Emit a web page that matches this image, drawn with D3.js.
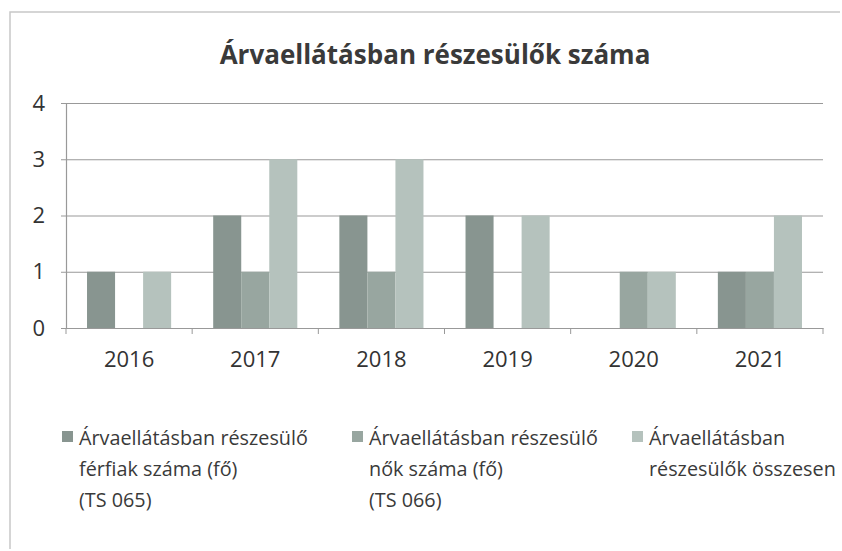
<!DOCTYPE html>
<html>
<head>
<meta charset="utf-8">
<script src="https://cdn.jsdelivr.net/npm/d3@7"></script>
<style>
  html, body { margin: 0; padding: 0; background: #fff; }
  svg { display: block; font-family: 'Open Sans', 'Noto Sans', sans-serif; }
</style>
</head>
<body>
<div id="chart"></div>
<script>
// ── Data ──────────────────────────────────────────────────────
const years = ['2016', '2017', '2018', '2019', '2020', '2021'];
const ferfiak = [1, 2, 2, 2, 0, 1];
const nok = [0, 1, 1, 0, 1, 1];
const osszesen = [1, 3, 3, 2, 1, 2];
const yTicks = [0, 1, 2, 3, 4];
const seriesNames = [
  ['Árvaellátásban részesülő', 'férfiak száma (fő)', '(TS 065)'],
  ['Árvaellátásban részesülő', 'nők száma (fő)', '(TS 066)'],
  ['Árvaellátásban', 'részesülők összesen']
];
const title = 'Árvaellátásban részesülők száma';

const COLORS = ['#889590', '#98a6a0', '#b5c2bd'];
const series = [ferfiak, nok, osszesen];

const W = 842, H = 551;
const m = { top: 103, right: 19, bottom: 223, left: 66 };
const iW = W - m.left - m.right, iH = H - m.top - m.bottom;

const svg = d3.select('#chart').append('svg').attr('width', W).attr('height', H);

// Scanned frame
svg.append('path').attr('d', `M10,${H - 2} L10,12 L${W - 2},12`)
  .attr('fill', 'none').attr('stroke', '#c8c8c8').attr('stroke-width', 1.5);

svg.append('text').attr('x', 435).attr('y', 64).attr('text-anchor', 'middle')
  .attr('font-size', 26).attr('font-weight', 700).attr('fill', '#3a3a3a')
  .text(title);

const g = svg.append('g').attr('transform', `translate(${m.left},${m.top})`);

const x = d3.scaleBand().domain(years).range([0, iW]).paddingInner(0).paddingOuter(0);
const xs = d3.scaleBand().domain(d3.range(series.length)).range([0, x.bandwidth()]).paddingInner(0).paddingOuter(0.75);
const y = d3.scaleLinear().domain([0, 4]).range([iH, 0]);

// Grid
g.append('g')
  .call(d3.axisLeft(y).tickValues(yTicks).tickSize(-iW).tickFormat(''))
  .call(g => { g.select('.domain').remove(); g.selectAll('line').attr('stroke', '#999').attr('stroke-width', 1.2); });

// Bars
series.forEach((vals, si) => {
  g.selectAll(`.bar-${si}`).data(years.map((yr, i) => ({ yr, v: vals[i] }))).enter().append('rect')
    .attr('x', d => x(d.yr) + xs(si))
    .attr('y', d => y(d.v))
    .attr('width', xs.bandwidth())
    .attr('height', d => iH - y(d.v))
    .attr('fill', COLORS[si]);
});

// X axis
g.append('g').attr('transform', `translate(0,${iH})`)
  .call(d3.axisBottom(x).tickSize(0).tickPadding(23))
  .call(g => { g.select('.domain').attr('stroke', '#999').attr('stroke-width', 1.2);
    g.selectAll('text').attr('font-size', 22).attr('fill', '#333').attr('font-family', "'Open Sans', sans-serif"); });
g.append('g').selectAll('line').data(d3.range(years.length + 1)).enter().append('line')
  .attr('x1', i => i * x.step()).attr('x2', i => i * x.step())
  .attr('y1', iH).attr('y2', iH + 6).attr('stroke', '#999');

// Y axis
g.append('g')
  .call(d3.axisLeft(y).tickValues(yTicks).tickSize(5).tickPadding(16).tickFormat(d3.format('d')))
  .call(g => { g.select('.domain').attr('stroke', '#999').attr('stroke-width', 1.2);
    g.selectAll('line').attr('stroke', '#999');
    g.selectAll('text').attr('font-size', 22).attr('fill', '#333').attr('font-family', "'Open Sans', sans-serif"); });

// Legend
const legX = [62, 352, 632];
seriesNames.forEach((lines, i) => {
  const lg = svg.append('g').attr('transform', `translate(${legX[i]},0)`);
  lg.append('rect').attr('x', 0).attr('y', 431).attr('width', 11).attr('height', 11).attr('fill', COLORS[i]);
  lines.forEach((t, j) => {
    lg.append('text').attr('x', 17).attr('y', 445 + j * 31)
      .attr('font-size', 19.8).attr('fill', '#3a3a3a').text(t);
  });
});
</script>
</body>
</html>
